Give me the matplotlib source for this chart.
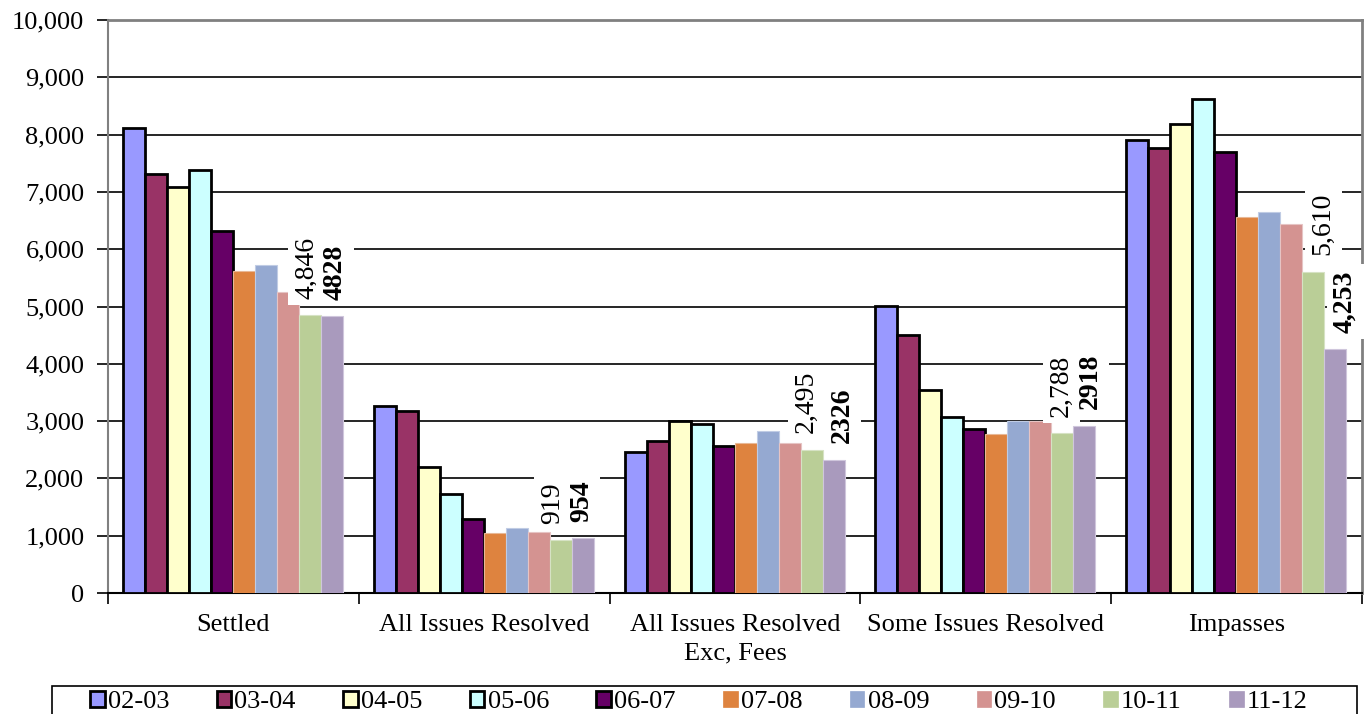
import matplotlib
matplotlib.use("Agg")
import matplotlib.pyplot as plt
from matplotlib.patches import Patch, Rectangle

plt.rcParams['font.family'] = ['Liberation Serif', 'DejaVu Serif']

categories = ["Settled", "All Issues Resolved", "All Issues Resolved\nExc, Fees",
              "Some Issues Resolved", "Impasses"]
years = ["02-03", "03-04", "04-05", "05-06", "06-07",
         "07-08", "08-09", "09-10", "10-11", "11-12"]

v_0203 = [8120, 3270, 2460, 5010, 7910]
v_0304 = [7310, 3170, 2650, 4500, 7770]
v_0405 = [7080, 2200, 3000, 3540, 8190]
v_0506 = [7390, 1720, 2950, 3070, 8620]
v_0607 = [6320, 1300, 2560, 2860, 7700]
v_0708 = [5620, 1050, 2610, 2770, 6560]
v_0809 = [5720, 1130, 2820, 3000, 6650]
v_0910 = [5250, 1060, 2610, 3000, 6440]
v_1011 = [4846, 919, 2495, 2788, 5610]
v_1112 = [4828, 954, 2326, 2918, 4253]

series = [v_0203, v_0304, v_0405, v_0506, v_0607,
          v_0708, v_0809, v_0910, v_1011, v_1112]

label_1011 = ["4,846", "919", "2,495", "2,788", "5,610"]
label_1112 = ["4828", "954", "2326", "2918", "4,253"]

colors = ["#9999FF", "#993366", "#FFFFCC", "#CCFFFF", "#660066",
          "#DE833F", "#95A9D1", "#D49391", "#BACE97", "#A99ABD"]
edge_colors = ["black"] * 5 + ["#E8B896", "#C0CCE4", "#E6C4C4", "#D6E2C4", "#CFC6DC"]
edge_widths = [2.0] * 5 + [0.8] * 5

W, H = 1367, 714
fig = plt.figure(figsize=(W / 100, H / 100), dpi=100)
ax = fig.add_axes([108 / W, 1 - 593 / H, 1254 / W, 573 / H])

bar_w = 0.0877
start = 0.06
for j, vals in enumerate(series):
    xs = [i + start + j * bar_w for i in range(len(categories))]
    ax.bar(xs, vals, width=bar_w, align='edge', color=colors[j],
           edgecolor=edge_colors[j], linewidth=edge_widths[j], zorder=3)

# value labels on the last two seasons (nudged sideways to avoid neighbours)
nudge_1011 = [-3, -8, -5, -1, 10]
nudge_1112 = [3, -1, 9, 6, 10]
box = dict(boxstyle="square,pad=0.22", facecolor="white", edgecolor="none")
for i in range(len(categories)):
    x10 = i + start + 8.5 * bar_w
    x11 = i + start + 9.5 * bar_w
    ax.annotate(label_1011[i], (x10, v_1011[i] + 290), xytext=(nudge_1011[i], 0),
                textcoords='offset pixels', rotation=90, ha='center', va='bottom',
                fontsize=20, bbox=box, zorder=4)
    ax.annotate(label_1112[i], (x11, v_1112[i] + 290), xytext=(nudge_1112[i], 0),
                textcoords='offset pixels', rotation=90, ha='center', va='bottom',
                fontsize=20, fontweight='bold', bbox=box, zorder=4)

ax.set_xlim(0, 5)
ax.set_ylim(0, 10000)
ax.set_yticks(range(0, 10001, 1000))
ax.set_yticklabels([f"{v:,}" for v in range(0, 10001, 1000)], fontsize=19)
ax.yaxis.grid(True, color="black", linewidth=1.2, zorder=0)
ax.set_axisbelow(True)

ax.set_xticks(range(0, 6))
ax.set_xticklabels([])
ax.set_xticks([i + 0.5 for i in range(5)], minor=True)
ax.set_xticklabels(categories, minor=True, fontsize=19, linespacing=1.4)
ax.tick_params(axis='x', which='minor', length=0, pad=15)
ax.tick_params(axis='x', which='major', length=8, width=1.2, direction='out', color='black')
ax.tick_params(axis='y', length=8, width=1.2, direction='out', pad=9)

for side in ("top", "right"):
    ax.spines[side].set_color("#808080")
    ax.spines[side].set_linewidth(2)
ax.spines["left"].set_color("#808080")
ax.spines["left"].set_linewidth(1.5)
ax.spines["bottom"].set_color("black")
ax.spines["bottom"].set_linewidth(1.5)

# legend frame running off the bottom edge
fig.patches.append(Rectangle((52 / W, -0.05), (1357 - 52) / W, 0.05 + 1 - 686 / H,
                             transform=fig.transFigure, facecolor="white",
                             edgecolor="black", linewidth=1.2, zorder=1))

handles = [Patch(facecolor=colors[j],
                 edgecolor="black" if j < 5 else colors[j],
                 linewidth=2.0 if j < 5 else 0.5, label=years[j])
           for j in range(10)]
leg = fig.legend(handles=handles, loc='center',
                 bbox_to_anchor=(699 / W, 1 - 702 / H),
                 ncol=10, fontsize=19, frameon=False,
                 handlelength=0.55, handleheight=0.55,
                 handletextpad=0.12, columnspacing=1.8, borderpad=0,
                 borderaxespad=0)
leg.set_zorder(2)

fig.savefig("out.png", dpi=100)
